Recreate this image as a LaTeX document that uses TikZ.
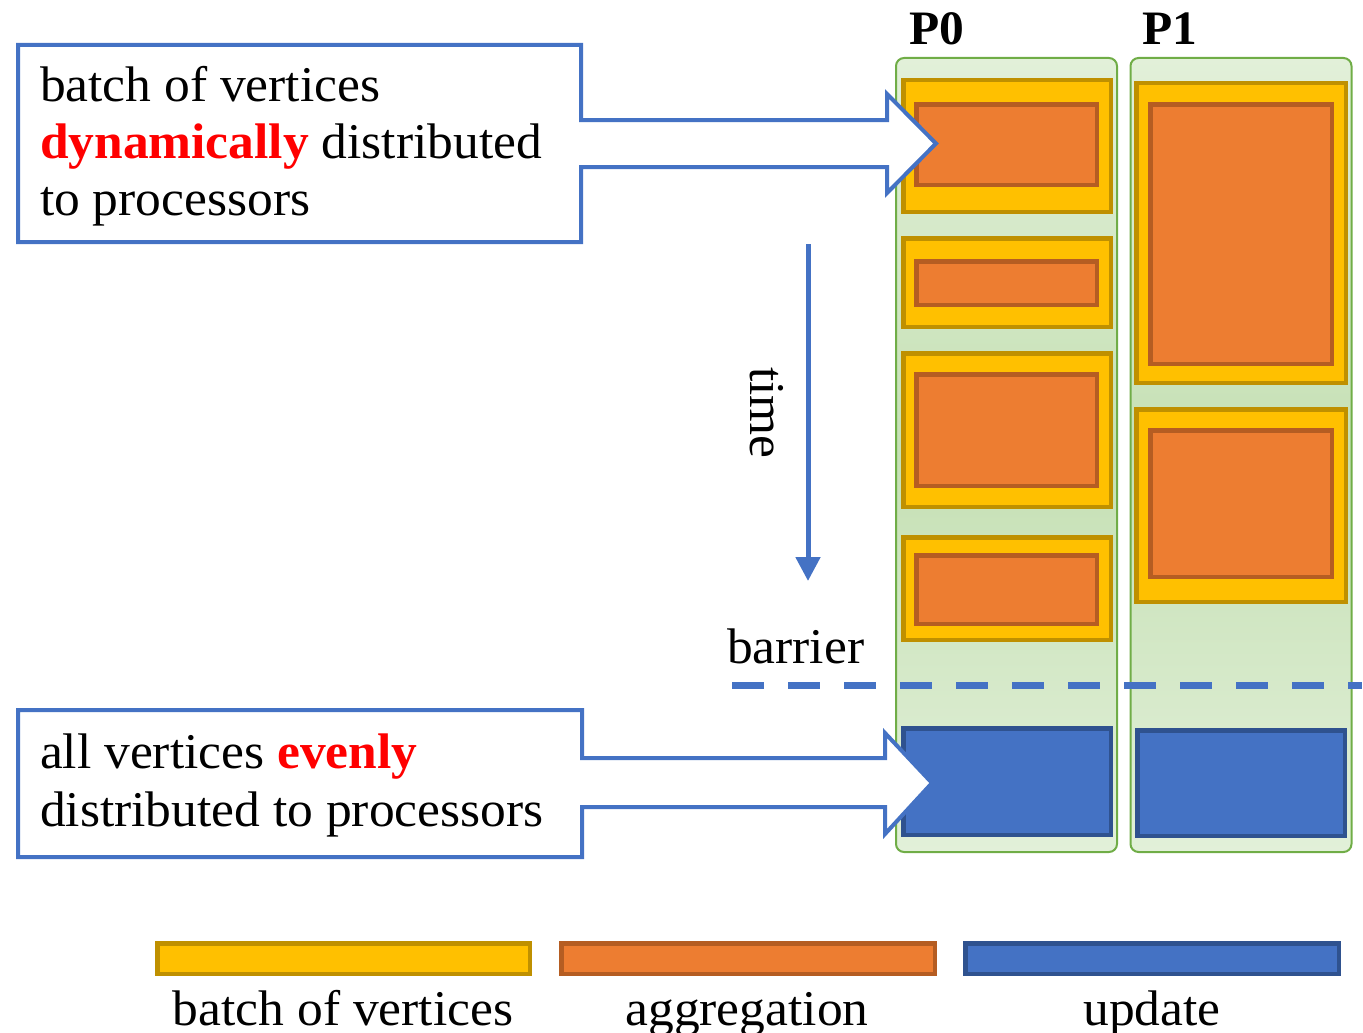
\documentclass[tikz,border=0pt]{standalone}
\usepackage{fontspec}
\setmainfont[FakeStretch=1.03]{Liberation Serif}
\usetikzlibrary{arrows.meta}
\definecolor{cblue}{HTML}{4472C4}
\definecolor{cbluedark}{HTML}{2F528F}
\definecolor{yfill}{HTML}{FFC000}
\definecolor{ydraw}{HTML}{BF9000}
\definecolor{ofill}{HTML}{ED7D31}
\definecolor{odraw}{HTML}{B55D22}
\definecolor{gdraw}{HTML}{70AD47}
\definecolor{glight}{HTML}{E2F0D9}
\definecolor{gmid}{HTML}{C5E0B4}
\definecolor{cred}{HTML}{FF0000}
\newcommand\mybox[6]{\node[#2, minimum width={#5-#3-4.5}, minimum height={#6-#4-4.5}] (#1) at ({(#3+#5)/2},{(#4+#6)/2}) {};}
\begin{document}
\begin{tikzpicture}[x=1pt,y=-1pt,
  every node/.style={inner sep=0pt, outer sep=0pt},
  txt/.style={font=\fontsize{50}{57}\selectfont},
  col/.style={draw=gdraw, line width=2pt, rounded corners=8pt, top color=glight, bottom color=glight, middle color=gmid},
  ybox/.style={draw=ydraw, fill=yfill, line width=4.5pt},
  obox/.style={draw=odraw, fill=ofill, line width=4.5pt},
  bbox/.style={draw=cbluedark, fill=cblue, line width=4.5pt},
  callout/.style={draw=cblue, fill=white, line width=4pt, line join=miter},
  barrierline/.style={draw=cblue, line width=7pt, dash pattern=on 32pt off 24pt},
  timearrow/.style={draw=cblue, line width=5pt, -{Triangle[width=24pt,length=24pt]}}
]
\useasboundingbox (0,0) rectangle (1363,1033);
% processor columns
\node[col, minimum width=221pt, minimum height=794pt] (c0) at (1006.5,455) {};
\node[col, minimum width=221pt, minimum height=794pt] (c1) at (1241,455) {};
% P0 boxes
\mybox{y01}{ybox}{901}{78}{1113}{214}
\mybox{o01}{obox}{914}{102}{1099}{187}
\mybox{y02}{ybox}{901}{236}{1113}{329}
\mybox{o02}{obox}{914}{259}{1099}{307}
\mybox{y03}{ybox}{901}{351}{1113}{509}
\mybox{o03}{obox}{914}{372}{1099}{488}
\mybox{y04}{ybox}{901}{535}{1113}{642}
\mybox{o04}{obox}{914}{553}{1099}{626}
% P1 boxes
\mybox{y11}{ybox}{1134}{81}{1348}{385}
\mybox{o11}{obox}{1148}{102}{1334}{366}
\mybox{y12}{ybox}{1134}{407}{1348}{604}
\mybox{o12}{obox}{1148}{428}{1334}{579}
% update boxes
\mybox{u0}{bbox}{901}{726}{1113}{837}
\mybox{u1}{bbox}{1135}{728}{1347}{838}
% labels P0 P1
\node[anchor=base, font=\fontsize{48}{50}\selectfont\bfseries] (p0) at (937,45) {P0};
\node[anchor=base, font=\fontsize{48}{50}\selectfont\bfseries] (p1) at (1170,45) {P1};
% barrier
\coordinate (bl) at (732,685);
\coordinate (br) at (1362,685);
\draw[barrierline] (bl) -- (br);
\node[txt, anchor=base west] (barrier) at (727,663) {barrier};
% time arrow
\coordinate (ts) at (808,244);
\coordinate (te) at (808,581);
\draw[timearrow] (ts) -- (te);
\node[txt, rotate=-90] (time) at (767,413) {time};
% callouts
\draw[callout] (18,45) -- (581,45) -- (581,120) -- (887,120) -- (887,94) -- (936,143.5) -- (887,193) -- (887,167) -- (581,167) -- (581,242) -- (18,242) -- cycle;
\draw[callout] (18,710) -- (582,710) -- (582,758) -- (885,758) -- (885,733) -- (932,783) -- (885,834) -- (885,807) -- (582,807) -- (582,857) -- (18,857) -- cycle;
\node[txt, anchor=base west] (t1a) at (40,102) {batch of vertices};
\node[txt, anchor=base west] (t1b) at (40,158) {\textcolor{cred}{\bfseries dynamically} distributed};
\node[txt, anchor=base west] (t1c) at (40,215) {to processors};
\node[txt, anchor=base west] (t2a) at (40,768) {all vertices \textcolor{cred}{\bfseries evenly}};
\node[txt, anchor=base west] (t2b) at (40,826) {distributed to processors};
% legend
\mybox{ly}{ybox}{155}{941}{532}{976}
\mybox{lo}{obox}{559}{941}{937}{976}
\mybox{lb}{bbox}{963}{941}{1341}{976}
\node[txt, anchor=base] (lyt) at (343,1025) {batch of vertices};
\node[txt, anchor=base] (lot) at (747,1025) {aggregation};
\node[txt, anchor=base] (lbt) at (1152,1025) {update};
\end{tikzpicture}
\end{document}
